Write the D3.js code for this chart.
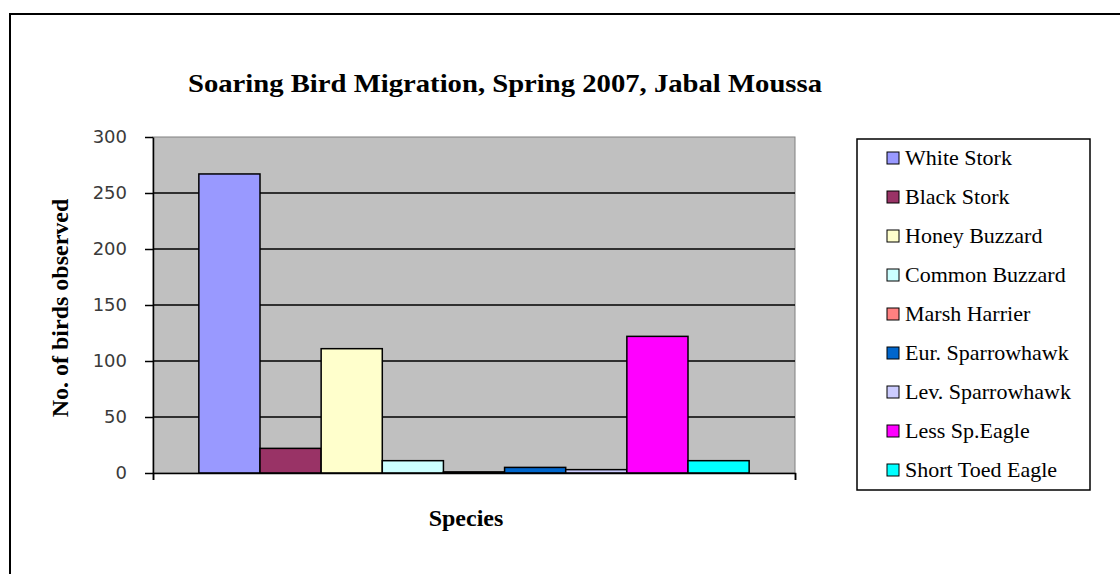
<!DOCTYPE html>
<html>
<head>
<meta charset="utf-8">
<script src="https://cdn.jsdelivr.net/npm/d3@7"></script>
<style>
  html, body { margin: 0; padding: 0; background: #fff; }
  svg { display: block; }
</style>
</head>
<body>
<svg id="chart" width="1120" height="574"></svg>
<script>
// Species counted and their totals
const species = ["White Stork", "Black Stork", "Honey Buzzard", "Common Buzzard", "Marsh Harrier",
  "Eur. Sparrowhawk", "Lev. Sparrowhawk", "Less Sp.Eagle", "Short Toed Eagle"];
const counts = [267, 22, 111, 11, 1, 5, 3, 122, 11];
const colors = ["#9999FF", "#993366", "#FFFFCC", "#CCFFFF", "#FF8080", "#0066CC", "#CCCCFF", "#FF00FF", "#00FFFF"];
const yTicks = [0, 50, 100, 150, 200, 250, 300];

const svg = d3.select("#chart");
const serif = "'Liberation Serif', 'Times New Roman', serif";
const sans = "'DejaVu Sans', Verdana, sans-serif";

// Outer chart frame (open to the right and bottom edges)
svg.append("rect")
  .attr("x", 10).attr("y", 14).attr("width", 1140).attr("height", 600)
  .attr("fill", "#fff").attr("stroke", "#000").attr("stroke-width", 2);

const plot = { left: 153, right: 795, top: 137, bottom: 473 };

const y = d3.scaleLinear().domain([0, 300]).range([plot.bottom, plot.top]);
const x = d3.scaleBand().domain(species).range([plot.left, plot.right]).paddingInner(0).paddingOuter(0.75);

// Plot background
svg.append("rect")
  .attr("x", plot.left).attr("y", plot.top)
  .attr("width", plot.right - plot.left).attr("height", plot.bottom - plot.top)
  .attr("fill", "#C0C0C0").attr("stroke", "#808080").attr("stroke-width", 1);

// Horizontal gridlines
svg.append("g")
  .selectAll("line")
  .data(yTicks.filter(d => d > 0 && d < 300))
  .join("line")
  .attr("x1", plot.left).attr("x2", plot.right)
  .attr("y1", d => y(d)).attr("y2", d => y(d))
  .attr("stroke", "#000").attr("stroke-width", 1.5);

// Bars
svg.append("g")
  .selectAll("rect")
  .data(species)
  .join("rect")
  .attr("x", d => x(d))
  .attr("y", (d, i) => y(counts[i]))
  .attr("width", x.bandwidth())
  .attr("height", (d, i) => y(0) - y(counts[i]))
  .attr("fill", (d, i) => colors[i])
  .attr("stroke", "#000").attr("stroke-width", 1.5);

// Y axis
const yAxis = svg.append("g")
  .attr("transform", `translate(${plot.left},0)`)
  .call(d3.axisLeft(y).tickValues(yTicks).tickSize(8).tickPadding(18).tickSizeOuter(0));
yAxis.select(".domain").attr("stroke", "#000").attr("stroke-width", 1.5);
yAxis.selectAll(".tick line").attr("stroke", "#000").attr("stroke-width", 1.5);
yAxis.selectAll("text")
  .attr("font-family", sans).attr("font-size", 18).attr("fill", "#3a3a3a");

// X axis baseline with end ticks
const xAxis = svg.append("g")
  .attr("transform", `translate(0,${plot.bottom})`)
  .call(d3.axisBottom(d3.scaleLinear().domain([0, 1]).range([plot.left, plot.right]))
    .tickValues([0, 1]).tickSize(7).tickFormat(""));
xAxis.select(".domain").attr("stroke", "#000").attr("stroke-width", 1.5);
xAxis.selectAll(".tick line").attr("stroke", "#000").attr("stroke-width", 1.5);

// Title and axis titles
svg.append("text")
  .attr("x", 505).attr("y", 92)
  .attr("text-anchor", "middle")
  .attr("font-family", serif).attr("font-weight", "bold").attr("font-size", 26)
  .attr("textLength", 634).attr("lengthAdjust", "spacingAndGlyphs")
  .text("Soaring Bird Migration, Spring 2007, Jabal Moussa");

svg.append("text")
  .attr("transform", `translate(68,308) rotate(-90)`)
  .attr("text-anchor", "middle")
  .attr("font-family", serif).attr("font-weight", "bold").attr("font-size", 24)
  .text("No. of birds observed");

svg.append("text")
  .attr("x", 466).attr("y", 526)
  .attr("text-anchor", "middle")
  .attr("font-family", serif).attr("font-weight", "bold").attr("font-size", 24)
  .text("Species");

// Legend
const legend = svg.append("g");
legend.append("rect")
  .attr("x", 857).attr("y", 139).attr("width", 233).attr("height", 351)
  .attr("fill", "#fff").attr("stroke", "#000").attr("stroke-width", 1.5);

const item = legend.selectAll("g.item")
  .data(species)
  .join("g")
  .attr("class", "item")
  .attr("transform", (d, i) => `translate(887,${158 + i * 39})`);
item.append("rect")
  .attr("x", 0).attr("y", -6).attr("width", 12).attr("height", 12)
  .attr("fill", (d, i) => colors[i]).attr("stroke", "#000").attr("stroke-width", 1);
item.append("text")
  .attr("x", 18).attr("y", 7)
  .attr("font-family", serif).attr("font-size", 22).attr("fill", "#000")
  .text(d => d);
</script>
</body>
</html>
